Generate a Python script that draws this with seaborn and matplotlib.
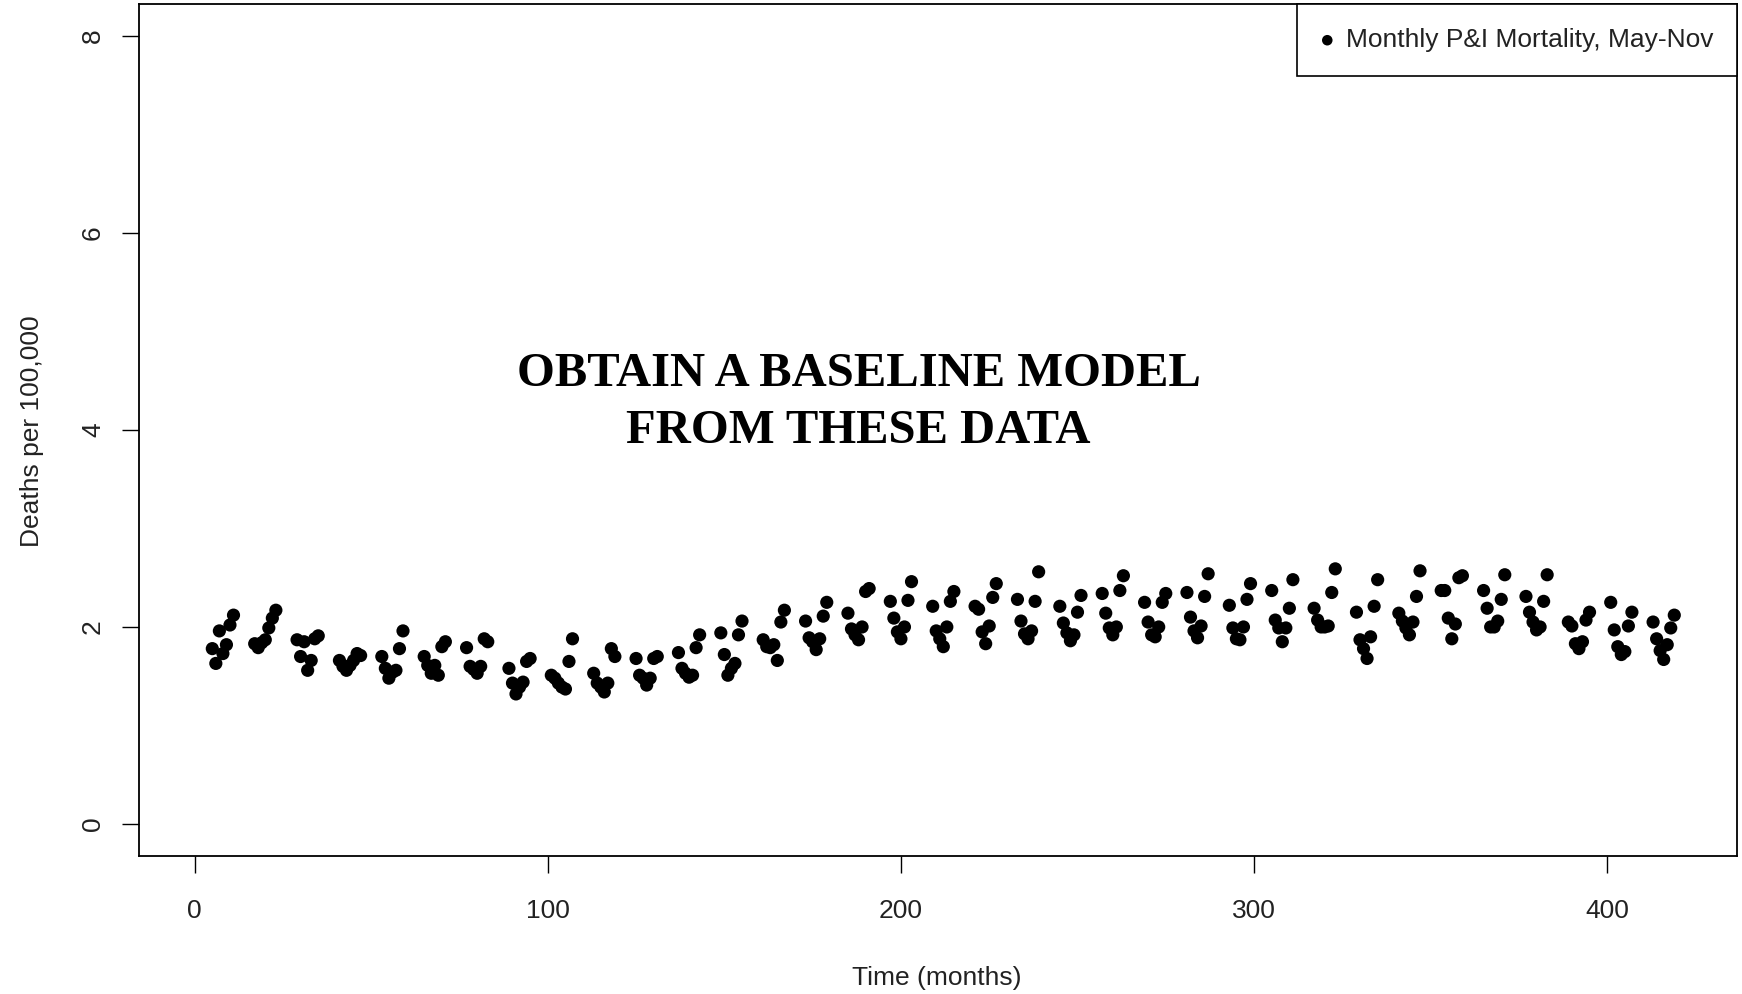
import numpy as np
import pandas as pd
import matplotlib
matplotlib.use("Agg")
import matplotlib.pyplot as plt
import seaborn as sns

# ---- data -------------------------------------------------------------
month_of_year = [5, 6, 7, 8, 9, 10, 11]          # May .. Nov
n_years = 35

rates_years_01_07 = [
    1.78, 1.63, 1.96, 1.73, 1.82, 2.02, 2.12,
    1.83, 1.79, 1.84, 1.87, 1.99, 2.09, 2.17,
    1.87, 1.70, 1.85, 1.56, 1.66, 1.88, 1.91,
    1.66, 1.60, 1.56, 1.61, 1.66, 1.73, 1.71,
    1.70, 1.58, 1.48, 1.54, 1.56, 1.78, 1.96,
    1.70, 1.61, 1.53, 1.61, 1.51, 1.80, 1.85,
    1.79, 1.60, 1.57, 1.53, 1.60, 1.88, 1.85,
]
rates_years_08_14 = [
    1.58, 1.43, 1.32, 1.39, 1.44, 1.65, 1.68,
    1.51, 1.48, 1.43, 1.39, 1.37, 1.65, 1.88,
    1.53, 1.43, 1.39, 1.34, 1.43, 1.78, 1.70,
    1.68, 1.51, 1.48, 1.41, 1.48, 1.68, 1.70,
    1.74, 1.58, 1.53, 1.49, 1.51, 1.79, 1.92,
    1.94, 1.72, 1.51, 1.58, 1.63, 1.92, 2.06,
    1.87, 1.80, 1.79, 1.82, 1.66, 2.05, 2.17,
]
rates_years_15_21 = [
    2.06, 1.89, 1.85, 1.77, 1.88, 2.11, 2.25,
    2.14, 1.98, 1.92, 1.87, 2.00, 2.36, 2.39,
    2.26, 2.09, 1.95, 1.88, 2.00, 2.27, 2.46,
    2.21, 1.96, 1.88, 1.80, 2.00, 2.26, 2.36,
    2.21, 2.18, 1.95, 1.83, 2.01, 2.30, 2.44,
    2.28, 2.06, 1.93, 1.88, 1.96, 2.26, 2.56,
    2.21, 2.04, 1.94, 1.86, 1.92, 2.15, 2.32,
]
rates_years_22_28 = [
    2.34, 2.14, 1.99, 1.92, 2.00, 2.37, 2.52,
    2.25, 2.05, 1.92, 1.90, 2.00, 2.25, 2.34,
    2.35, 2.10, 1.96, 1.89, 2.01, 2.31, 2.54,
    2.22, 1.99, 1.88, 1.87, 2.00, 2.28, 2.44,
    2.37, 2.07, 1.99, 1.85, 1.99, 2.19, 2.48,
    2.19, 2.07, 2.00, 2.00, 2.01, 2.35, 2.59,
    2.15, 1.87, 1.78, 1.68, 1.90, 2.21, 2.48,
]
rates_years_29_35 = [
    2.14, 2.06, 1.99, 1.92, 2.05, 2.31, 2.57,
    2.37, 2.37, 2.09, 1.88, 2.03, 2.50, 2.52,
    2.37, 2.19, 2.00, 2.00, 2.06, 2.28, 2.53,
    2.31, 2.15, 2.05, 1.97, 2.00, 2.26, 2.53,
    2.05, 2.01, 1.83, 1.78, 1.85, 2.07, 2.15,
    2.25, 1.97, 1.80, 1.72, 1.75, 2.01, 2.15,
    2.05, 1.88, 1.76, 1.67, 1.82, 1.99, 2.12,
]

x_ticks = [0, 100, 200, 300, 400]
y_ticks = [0, 2, 4, 6, 8]
legend_label = "Monthly P&I Mortality, May-Nov"
x_title = "Time (months)"
y_title = "Deaths per 100,000"
overlay_text = "OBTAIN A BASELINE MODEL\nFROM THESE DATA"

time_months = [12 * y + m for y in range(n_years) for m in month_of_year]
rates = (rates_years_01_07 + rates_years_08_14 + rates_years_15_21
         + rates_years_22_28 + rates_years_29_35)
df = pd.DataFrame({"time": time_months, "rate": rates})

# ---- plot -------------------------------------------------------------
sns.set_theme(style="ticks")
plt.rcParams["font.family"] = ["Liberation Sans", "DejaVu Sans"]

fig = plt.figure(figsize=(17.42, 9.94), dpi=100)
ax = fig.add_axes([139 / 1742, 1 - 855.5 / 994, (1737 - 139) / 1742, (855.5 - 4.4) / 994])

sns.scatterplot(data=df, x="time", y="rate", ax=ax, color="black", s=90,
                linewidth=0, edgecolor="none", label=legend_label)

ax.set_xlim(1 - 0.04 * 419, 420 + 0.04 * 419)
ax.set_ylim(-0.32, 8.32)
ax.set_xticks(x_ticks)
ax.set_yticks(y_ticks)
ax.set_xticklabels([str(v) for v in x_ticks])
ax.set_yticklabels([str(v) for v in y_ticks])

for s in ax.spines.values():
    s.set_visible(True)
    s.set_color("black")
    s.set_linewidth(1.3)

ax.tick_params(axis="both", direction="out", length=12.5, width=1.0,
               color="black", labelsize=19, labelcolor="#222222")
ax.tick_params(axis="x", pad=19)
ax.tick_params(axis="y", pad=12)
for lab in ax.get_yticklabels():
    lab.set_rotation(90)
    lab.set_va("center")

ax.set_xlabel(x_title, fontsize=19, color="#222222")
ax.set_ylabel(y_title, fontsize=19, color="#222222")
ax.xaxis.set_label_coords(0.4994, -0.1439)
ax.xaxis.label.set_va("center")
ax.yaxis.set_label_coords(-0.067, 0.4988)
ax.yaxis.label.set_va("center")

ax.text(188, 4.28, overlay_text, ha="center", va="center",
        fontsize=35, fontweight="bold", family=["Liberation Serif", "DejaVu Serif"],
        color="black", linespacing=1.38)

leg = ax.legend(loc="upper right", borderaxespad=0, fancybox=False,
                frameon=True, fontsize=19, markerscale=0.8,
                handletextpad=0.45, borderpad=0.9, handlelength=0.5)
leg.get_frame().set_edgecolor("black")
leg.get_frame().set_linewidth(1.2)
leg.get_frame().set_alpha(1)
for t in leg.get_texts():
    t.set_color("#222222")

fig.savefig("out.png", dpi=100, facecolor="white")
